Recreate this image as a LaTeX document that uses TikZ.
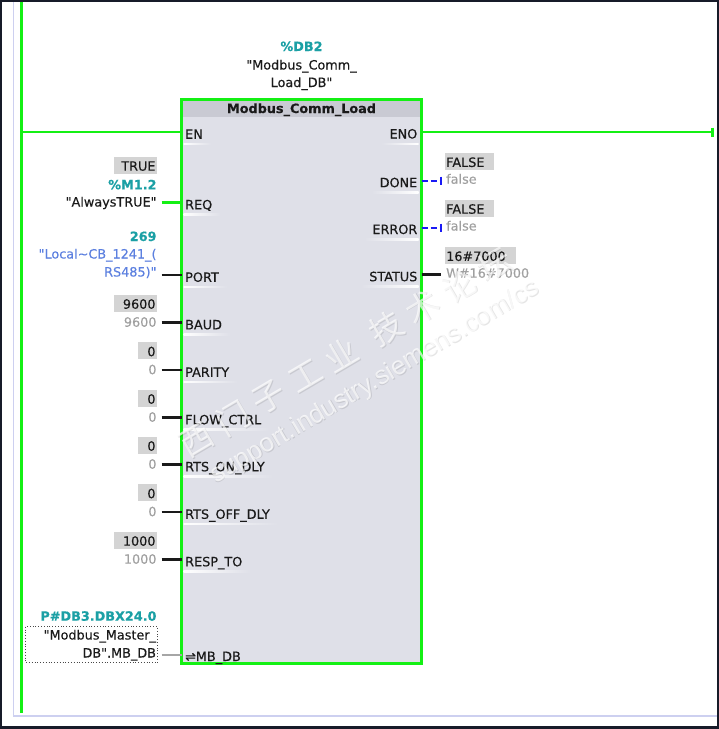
\documentclass[tikz,border=0pt]{standalone}
\usepackage{fontspec}
\setmainfont{DejaVu Sans}[Ligatures=TeXOff, FakeBold=0.35]
\newfontfamily\cjkfont{Noto Sans CJK SC}
\newfontfamily\wmfont{Liberation Sans}
\usetikzlibrary{calc}
\definecolor{plcgreen}{HTML}{14F014}
\definecolor{tagteal}{HTML}{1BA0A5}
\definecolor{blockfill}{HTML}{DFE0E8}
\definecolor{headfill}{HTML}{C9CAD3}
\definecolor{boxgray}{HTML}{D4D4D4}
\definecolor{lightval}{HTML}{A0A0A0}
\definecolor{tagblue}{HTML}{5C80E0}
\definecolor{pintext}{HTML}{1A1A1A}
\definecolor{framedark}{HTML}{171B29}
\definecolor{panelline}{HTML}{CDD0F0}
\definecolor{wireblue}{HTML}{1A1AF5}
\newcommand\plcfs{\fontsize{12.8}{15}\selectfont}
\newcommand\wmcjk{\cjkfont\fontsize{33}{35}\selectfont}
\newcommand\wmurl{\wmfont\fontsize{26}{28}\selectfont}
\begin{document}
\begin{tikzpicture}[x=1pt,y=-1pt,
  every node/.style={inner sep=0pt, font=\plcfs},
  pinl/.style={anchor=base west, text=pintext},
  pinr/.style={anchor=base east, text=pintext},
  vboxl/.style={anchor=base east, fill=boxgray, text=pintext, inner xsep=1pt, inner ysep=0.5pt, text height=13.5pt, text depth=2.7pt},
  vboxr/.style={anchor=base west, fill=boxgray, text=pintext, inner xsep=1pt, inner ysep=0.5pt, text height=13.5pt, text depth=2.7pt},
  lvall/.style={anchor=base east, text=lightval},
  lvalr/.style={anchor=base west, text=lightval},
  tagl/.style={anchor=base east, text=tagteal, font=\bfseries\plcfs},
  rung/.style={draw=plcgreen, line width=2.8pt},
  blackwire/.style={draw=pintext, line width=2.6pt},
]
\useasboundingbox (0,0) rectangle (719,729);
% frame
\fill[framedark] (0,0) rectangle (719,729);
\fill[white] (2,2) rectangle (717,726);
\draw[panelline, line width=1.3pt] (13.5,2) -- (13.5,716) -- (717,716);

% block
\node[draw=plcgreen, fill=blockfill, line width=2.6pt, outer sep=0pt, anchor=north west, minimum width=240pt, minimum height=564pt] (fb) at (181.5,99.5) {};
\fill[headfill] ($(fb.north west)+(1.3,1.3)$) rectangle ($(fb.north east)+(-1.3,17.5)$);
\node[font=\bfseries\plcfs, anchor=base, text=pintext] (title) at (301.5,113) {Modbus\_Comm\_Load};

% instance DB
\node[anchor=base, text=tagteal, font=\bfseries\plcfs] (dbnum) at (301.5,51) {\%DB2};
\node[anchor=base, text=pintext] (dbname1) at (301.5,69.5) {"Modbus\_Comm\_};
\node[anchor=base, text=pintext] (dbname2) at (301.5,87) {Load\_DB"};

% rail and EN/ENO
\coordinate (railtop) at (21.5,2);
\coordinate (railbot) at (21.5,713);
\draw[rung, line width=2.6pt] (railtop) -- (railbot);
\coordinate (railEN) at (21.5,132);
\coordinate (pEN) at (181.5,132);
\draw[rung] (railEN) -- (pEN);
\coordinate (pENO) at (421.5,132);
\coordinate (rungend) at (712.5,132);
\draw[rung] (pENO) -- (rungend);
\draw[plcgreen, line width=2.6pt] ($(rungend)+(0,-4.5)$) -- ($(rungend)+(0,4.5)$);

% left pin labels
\foreach \nm/\lab/\w in {EN/EN/132, REQ/REQ/202.5, PORT/PORT/275, BAUD/BAUD/322.5, PARITY/PARITY/370, FLOW/FLOW\_CTRL/417.5, RTSON/RTS\_ON\_DLY/464.5, RTSOFF/RTS\_OFF\_DLY/512, RESP/RESP\_TO/559.5} {
  \node[pinl] (lab\nm) at (185,{\w+6.8}) {\lab};
  \shade[left color=white, right color=blockfill] ($(lab\nm.base west)+(-1.5,4.5)$) rectangle ($(lab\nm.base east)+(8,6)$);
}
\node[pinl] (labMBDB) at (185,661) {⇌MB\_DB};

% right pin labels
\foreach \nm/\lab/\w in {ENO/ENO/132, DONE/DONE/180.7, ERROR/ERROR/227.5, STATUS/STATUS/274.7} {
  \node[pinr] (lab\nm) at (417.5,{\w+6.5}) {\lab};
  \shade[left color=blockfill, right color=white] ($(lab\nm.base west)+(-8,4.5)$) rectangle ($(lab\nm.base east)+(1,6)$);
}

% left wires
\foreach \nm/\w in {REQ/202.5, PORT/275, BAUD/322.5, PARITY/370, FLOW/417.5, RTSON/464.5, RTSOFF/512, RESP/559.5, MBDB/654.5} {
  \coordinate (p\nm) at (181.5,\w);
  \coordinate (w\nm) at (161.7,\w);
}
\draw[plcgreen, line width=2.6pt] (wREQ) -- (pREQ);
\foreach \nm in {PORT, BAUD, PARITY, FLOW, RTSON, RTSOFF, RESP} {
  \draw[blackwire] (w\nm) -- (p\nm);
}
\draw[draw=black!35, line width=2pt] (wMBDB) -- (pMBDB);

% REQ values
\node[vboxl] (boxREQ) at (156.7,170.7) {\hspace*{6pt}TRUE};
\node[tagl] (addrREQ) at (156.7,189.3) {\%M1.2};
\node[anchor=base east, text=pintext] (symREQ) at (156.7,206.5) {"AlwaysTRUE"};

% PORT values
\node[tagl] (valPORT) at (156.7,241) {269};
\node[anchor=base east, text=tagblue] (symPORT1) at (156.7,258.5) {"Local\textasciitilde CB\_1241\_(};
\node[anchor=base east, text=tagblue] (symPORT2) at (156.7,276.5) {RS485)"};

% simple values
\foreach \nm/\w/\bv in {BAUD/322.5/9600, PARITY/370/0, FLOW/417.5/0, RTSON/464.5/0, RTSOFF/512/0, RESP/559.5/1000} {
  \node[vboxl] (box\nm) at (156.7,{\w-13.8}) {\hspace*{8pt}\bv};
  \node[lvall] (val\nm) at (156.7,{\w+4.2}) {\bv};
}

% MB_DB
\node[tagl] (addrMB) at (156.7,620.7) {P\#DB3.DBX24.0};
\draw[pintext!80, dotted, line width=0.8pt] (25.7,626.7) rectangle (157.3,662.7);
\node[anchor=base east, text=pintext] (symMB1) at (156.2,639.5) {"Modbus\_Master\_};
\node[anchor=base east, text=pintext] (symMB2) at (156.2,657.5) {DB".MB\_DB};

% outputs
\foreach \nm/\w in {DONE/180.7, ERROR/227.5} {
  \coordinate (p\nm) at (421.5,\w);
  \coordinate (e\nm) at (441,\w);
  \draw[wireblue, line width=2pt, dash pattern=on 6pt off 3pt] (p\nm) -- (e\nm);
  \draw[wireblue, line width=2pt] ($(e\nm)+(0,-4)$) -- ($(e\nm)+(0,4)$);
  \node[vboxr] (box\nm) at (445,{\w-13.8}) {FALSE\hspace*{9pt}};
  \node[lvalr] (val\nm) at (446,{\w+3}) {false};
}
\coordinate (pSTATUS) at (421.5,274.7);
\coordinate (eSTATUS) at (441,274.7);
\draw[blackwire] (pSTATUS) -- (eSTATUS);
\node[vboxr] (boxSTATUS) at (445,{274.7-13.8}) {16\#7000\hspace*{9pt}};
\node[lvalr] (valSTATUS) at (446,277.7) {W\#16\#7000};

% watermark
\foreach \ch/\t [count=\i] in {西/0,门/1,子/2,工/3,业/4,技/5.25,术/6.25,论/7.25,坛/8.25} {
  \node[font=\wmcjk, rotate=30.5, text=black, opacity=0.1] (wmS\i) at ({197.8+\t*36.12},{440.8-\t*21.29}) {\ch};
  \node[font=\wmcjk, rotate=30.5, text=white, opacity=0.7] (wm\i) at ({197+\t*36.12},{440-\t*21.29}) {\ch};
}
\node[font=\wmurl, rotate=30.5, text=black, opacity=0.1] (urlS) at (375.8,382.8) {support.industry.siemens.com/cs};
\node[font=\wmurl, rotate=30.5, text=white, opacity=0.7] (url) at (375,382) {support.industry.siemens.com/cs};
\end{tikzpicture}
\end{document}
